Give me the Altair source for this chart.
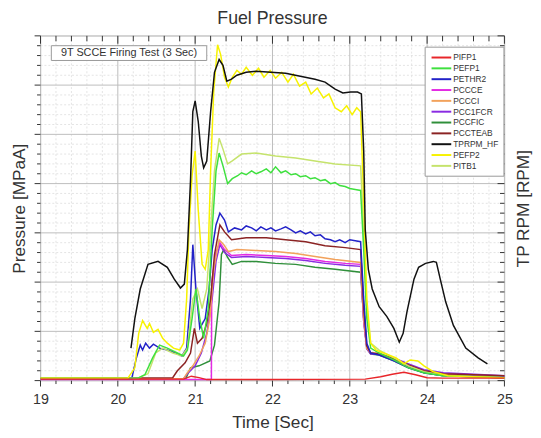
import altair as alt
import pandas as pd

chart_title = "Fuel Pressure"
note_text = "9T SCCE Firing Test (3 Sec)"
series_names = ["PIFP1", "PEFP1", "PETHR2", "PCCCE", "PCCCI", "PCC1FCR",
                "PCCFIC", "PCCTEAB", "TPRPM_HF", "PEFP2", "PITB1"]
series_colors = ["#e8262a", "#3ee03e", "#2222c8", "#e32be3", "#f2a25c", "#8a2be2",
                 "#2f8f3a", "#8b2323", "#111111", "#f7f200", "#c5e36c"]
x_labels = [19, 20, 21, 22, 23, 24, 25]
y_major = [0, 10, 20, 30, 40, 50, 60, 70]

# [time s, value] pairs
PIFP1 = [[19.0, 0.3], [20.2, 0.3], [20.85, 0.3], [20.95, 0.9], [21.05, 0.6], [21.15, 0.2],
         [22.0, 0.2], [23.2, 0.3], [23.4, 0.8], [23.55, 1.3], [23.7, 1.7], [23.85, 1.2],
         [24.0, 0.6], [24.2, 0.5], [25.0, 0.5]]
PEFP1 = [[19.0, 0.5], [20.26, 0.5], [20.35, 1.2], [20.45, 4.6], [20.54, 7.2], [20.64, 6.6],
         [20.77, 5.6], [20.85, 5.0], [20.90, 6.2], [20.96, 12.6], [21.01, 18.6], [21.06, 12.6],
         [21.11, 8.6], [21.17, 14.6], [21.22, 30.6], [21.27, 42.6], [21.31, 46.2], [21.36, 43.6],
         [21.42, 40.0], [21.48, 41.0], [21.55, 41.6], [21.60, 42.2], [21.66, 41.8], [21.73, 42.6],
         [21.79, 42.0], [21.85, 42.4], [21.92, 43.0], [21.98, 42.2], [22.04, 43.4], [22.11, 42.2],
         [22.17, 42.6], [22.24, 41.8], [22.30, 42.0], [22.36, 41.4], [22.43, 41.6], [22.49, 41.0],
         [22.55, 41.2], [22.62, 40.6], [22.68, 40.8], [22.75, 40.0], [22.81, 40.2], [22.87, 39.6],
         [22.94, 39.4], [23.00, 39.0], [23.07, 38.8], [23.14, 38.6], [23.18, 26.6], [23.22, 12.6],
         [23.27, 6.6], [23.38, 5.6], [23.57, 4.2], [23.76, 2.6], [23.96, 1.6], [24.21, 1.0],
         [25.0, 0.6]]
PETHR2 = [[19.0, 0.4], [20.18, 0.4], [20.24, 4.6], [20.29, 7.2], [20.32, 6.2], [20.36, 7.6],
          [20.41, 6.6], [20.46, 7.4], [20.54, 6.6], [20.64, 6.2], [20.75, 5.6], [20.83, 5.0],
          [20.89, 6.6], [20.94, 16.6], [20.97, 27.6], [21.01, 18.6], [21.06, 10.6], [21.13, 12.6],
          [21.18, 18.6], [21.22, 26.6], [21.27, 31.6], [21.32, 34.0], [21.38, 32.6], [21.43, 30.2],
          [21.51, 31.0], [21.60, 30.6], [21.66, 31.4], [21.73, 31.0], [21.79, 30.4], [21.85, 31.2],
          [21.92, 30.6], [21.98, 31.0], [22.04, 30.4], [22.11, 30.8], [22.17, 31.2], [22.24, 30.6],
          [22.30, 30.0], [22.36, 30.4], [22.43, 29.8], [22.49, 30.2], [22.55, 29.4], [22.62, 29.6],
          [22.68, 28.8], [22.75, 28.6], [22.81, 28.2], [22.87, 28.6], [22.94, 28.0], [23.00, 28.6],
          [23.07, 28.4], [23.14, 28.2], [23.18, 16.6], [23.22, 7.6], [23.27, 5.6], [23.38, 5.2],
          [23.57, 4.0], [23.76, 2.6], [23.96, 1.6], [24.21, 1.0], [25.0, 0.7]]
PCCCE = [[19.0, 0.2], [21.21, 0.2], [21.215, 20.0], [21.27, 26.0], [21.32, 28.0], [21.38, 26.6],
         [21.47, 25.4], [21.66, 25.6], [21.92, 25.4], [22.17, 25.2], [22.43, 24.8], [22.68, 24.2],
         [22.94, 23.8], [23.14, 23.6], [23.18, 12.0], [23.22, 6.8], [23.27, 5.6], [23.38, 5.4],
         [23.57, 4.4], [23.76, 2.8], [23.96, 1.8], [24.21, 1.2], [25.0, 0.8]]
PCCCI = [[19.0, 0.4], [20.85, 0.4], [20.90, 1.6], [20.97, 3.0], [21.05, 5.0], [21.13, 7.6],
         [21.19, 12.6], [21.24, 22.6], [21.31, 28.6], [21.37, 27.6], [21.43, 26.2], [21.54, 26.6],
         [21.79, 26.4], [22.04, 26.2], [22.30, 25.8], [22.55, 25.2], [22.81, 24.6], [23.14, 24.0],
         [23.18, 12.6], [23.22, 6.6], [23.27, 5.6], [23.38, 5.6], [23.57, 4.4], [23.76, 3.0],
         [23.96, 1.8], [24.21, 1.2], [25.0, 0.8]]
PCC1FCR = [[19.0, 0.4], [20.85, 0.4], [20.90, 1.4], [21.00, 3.0], [21.08, 5.6], [21.15, 9.6],
           [21.22, 16.6], [21.27, 24.2], [21.32, 27.6], [21.38, 26.0], [21.47, 25.0], [21.66, 25.2],
           [21.92, 25.0], [22.17, 24.8], [22.43, 24.4], [22.68, 23.8], [22.94, 23.4], [23.14, 23.2],
           [23.18, 12.0], [23.22, 6.4], [23.27, 5.4], [23.38, 5.4], [23.57, 4.6], [23.76, 3.4],
           [23.96, 2.2], [24.21, 1.6], [25.0, 1.0]]
PCCFIC = [[19.0, 0.4], [20.88, 0.4], [20.94, 2.6], [21.05, 3.0], [21.19, 4.0], [21.25, 7.2],
          [21.31, 16.0], [21.34, 25.6], [21.37, 26.6], [21.42, 25.0], [21.48, 23.6], [21.60, 24.2],
          [21.79, 24.2], [22.04, 23.8], [22.30, 23.6], [22.55, 23.0], [22.81, 22.6], [23.14, 22.0],
          [23.18, 12.6], [23.22, 6.6], [23.27, 5.4], [23.38, 5.2], [23.57, 4.0], [23.76, 2.6],
          [23.96, 1.6], [24.21, 1.0], [25.0, 0.6]]
PCCTEAB = [[19.0, 0.5], [20.71, 0.6], [20.77, 2.0], [20.87, 3.6], [20.94, 5.6], [20.99, 10.6],
           [21.03, 7.6], [21.09, 8.6], [21.15, 11.6], [21.20, 16.6], [21.25, 25.6], [21.32, 31.6],
           [21.38, 30.2], [21.47, 28.6], [21.66, 29.0], [21.92, 29.0], [22.17, 28.6], [22.43, 28.2],
           [22.68, 27.4], [22.94, 27.0], [23.14, 26.6], [23.18, 14.6], [23.22, 7.0], [23.27, 5.6],
           [23.38, 5.4], [23.57, 4.4], [23.76, 3.2], [23.96, 2.0], [24.21, 1.4], [25.0, 1.0]]
TPRPM_HF = [[20.17, 6.6], [20.22, 12.6], [20.29, 18.6], [20.39, 23.6], [20.52, 24.2], [20.64, 23.0],
            [20.73, 20.6], [20.81, 18.8], [20.86, 19.6], [20.90, 26.6], [20.94, 40.6], [20.97, 54.6],
            [21.00, 56.8], [21.04, 52.6], [21.08, 45.6], [21.11, 43.2], [21.15, 44.6], [21.20, 54.6],
            [21.25, 62.6], [21.31, 65.2], [21.36, 64.0], [21.41, 60.8], [21.47, 61.2], [21.54, 62.0],
            [21.66, 62.6], [21.79, 62.8], [21.98, 62.6], [22.17, 62.4], [22.36, 61.8], [22.55, 61.2],
            [22.68, 60.6], [22.81, 59.2], [22.91, 58.4], [23.01, 58.6], [23.10, 58.6], [23.15, 58.2],
            [23.18, 46.6], [23.20, 30.6], [23.24, 22.6], [23.29, 18.6], [23.38, 15.0], [23.48, 13.0],
            [23.57, 10.6], [23.64, 7.8], [23.69, 9.6], [23.74, 14.0], [23.83, 20.6], [23.89, 23.0],
            [23.98, 23.8], [24.08, 24.2], [24.12, 24.0], [24.17, 20.6], [24.24, 16.0], [24.34, 11.2],
            [24.50, 6.6], [24.66, 4.6], [24.78, 3.4]]
PEFP2 = [[19.0, 0.5], [20.13, 0.5], [20.22, 2.6], [20.27, 9.6], [20.32, 12.2], [20.38, 10.6],
         [20.41, 11.6], [20.46, 9.8], [20.52, 10.4], [20.58, 8.6], [20.64, 7.6], [20.72, 6.6],
         [20.80, 6.2], [20.85, 7.6], [20.89, 16.6], [20.92, 30.6], [20.96, 41.6], [21.00, 46.6],
         [21.04, 34.6], [21.09, 23.6], [21.13, 22.6], [21.17, 26.6], [21.20, 42.6], [21.24, 58.6],
         [21.29, 68.2], [21.33, 66.2], [21.38, 61.6], [21.43, 59.6], [21.48, 61.6], [21.54, 63.0],
         [21.60, 62.2], [21.66, 63.6], [21.74, 62.0], [21.82, 63.4], [21.89, 61.6], [21.97, 63.0],
         [22.04, 61.4], [22.12, 62.6], [22.20, 60.6], [22.27, 62.2], [22.35, 59.8], [22.43, 60.6],
         [22.50, 58.2], [22.58, 59.4], [22.66, 57.4], [22.73, 58.2], [22.81, 55.4], [22.89, 54.6],
         [22.96, 55.8], [23.03, 54.0], [23.09, 55.4], [23.14, 54.6], [23.18, 36.6], [23.22, 16.6],
         [23.27, 7.6], [23.34, 6.2], [23.47, 5.4], [23.60, 4.6], [23.70, 3.4], [23.78, 4.2],
         [23.88, 4.0], [23.96, 3.0], [24.08, 1.8], [24.27, 1.0], [24.59, 0.8], [25.0, 0.6]]
PITB1 = [[19.0, 0.5], [20.26, 0.5], [20.39, 1.4], [20.49, 5.6], [20.58, 6.6], [20.71, 5.6],
         [20.83, 5.0], [20.90, 6.6], [20.97, 16.6], [21.03, 18.6], [21.09, 14.6], [21.15, 18.6],
         [21.20, 30.6], [21.25, 42.6], [21.31, 49.2], [21.36, 47.0], [21.42, 44.0], [21.48, 44.6],
         [21.60, 46.0], [21.79, 46.2], [22.04, 45.6], [22.30, 45.2], [22.55, 44.6], [22.81, 44.0],
         [23.14, 43.6], [23.18, 30.6], [23.22, 14.6], [23.27, 7.6], [23.38, 6.2], [23.57, 4.6],
         [23.76, 3.0], [23.96, 1.8], [24.21, 1.0], [25.0, 0.6]]

# annotation box [t_left, t_right, v_bottom, v_top]
note_box = [19.14, 21.15, 65.0, 68.0]

FONT = "Liberation Sans"
W, H = 471, 350

x_minor = [round(19 + 0.2 * i, 1) for i in range(31) if i % 5]
y_minor = [2 * i for i in range(36) if i % 5]

xs = alt.Scale(domain=[19, 25], nice=False, zero=False)
ys = alt.Scale(domain=[0, 70], nice=False, zero=False)
cscale = alt.Scale(domain=series_names, range=series_colors)
legend = alt.Legend(title=None, orient="none", legendX=390, legendY=11,
                    strokeColor="#999999", fillColor="white", padding=5,
                    symbolType="M-2,0H2", symbolSize=100, symbolStrokeWidth=2,
                    symbolOffset=6, labelOffset=6,
                    labelFontSize=8.5, labelFont=FONT, labelColor="#333333",
                    rowPadding=0)

df_xmaj = pd.DataFrame({"t": x_labels})
df_xmin = pd.DataFrame({"t": x_minor})
df_ymaj = pd.DataFrame({"v": y_major})
df_ymin = pd.DataFrame({"v": y_minor})

x_axis = alt.Axis(values=x_labels, title="Time [Sec]", grid=False, ticks=False,
                  domain=False, labelFontSize=14.5, labelFont=FONT, labelColor="#333333",
                  labelPadding=12, labelFlush=False, titleFontSize=17.5, titleFont=FONT,
                  titleFontWeight="normal", titleColor="#333333", titlePadding=8)
y_axis = alt.Axis(values=y_major, title="Pressure [MPaA]", labels=False, ticks=False,
                  grid=False, domain=False, titleFontSize=17.5, titleFont=FONT,
                  titleFontWeight="normal", titleColor="#333333", titlePadding=12)


def X(f="t"):
    return alt.X(f"{f}:Q", scale=xs, axis=x_axis, title="Time [Sec]")


def Y(f="v"):
    return alt.Y(f"{f}:Q", scale=ys, axis=y_axis, title="Pressure [MPaA]")


layers = []
# grid
layers.append(alt.Chart(df_xmin).mark_rule(color="#dcdcdc", strokeWidth=0.8, strokeDash=[2, 2])
              .encode(x=X(), y=alt.value(0), y2=alt.value(H)))
layers.append(alt.Chart(df_ymin).mark_rule(color="#dcdcdc", strokeWidth=0.8, strokeDash=[2, 2])
              .encode(y=Y(), x=alt.value(0), x2=alt.value(W)))
layers.append(alt.Chart(df_xmaj).mark_rule(color="#bdbdbd", strokeWidth=1)
              .encode(x=X(), y=alt.value(0), y2=alt.value(H)))
layers.append(alt.Chart(df_ymaj).mark_rule(color="#bdbdbd", strokeWidth=1)
              .encode(y=Y(), x=alt.value(0), x2=alt.value(W)))
# ticks (bottom/left out, top/right in)
tk = "#333333"
for df, ln in ((df_xmaj, 6), (df_xmin, 3.5)):
    layers.append(alt.Chart(df).mark_rule(color=tk).encode(x=X(), y=alt.value(H), y2=alt.value(H + ln)))
    layers.append(alt.Chart(df).mark_rule(color=tk).encode(x=X(), y=alt.value(0), y2=alt.value(ln + 2)))
for df, ln in ((df_ymaj, 6), (df_ymin, 3.5)):
    layers.append(alt.Chart(df).mark_rule(color=tk).encode(y=Y(), x=alt.value(-ln), x2=alt.value(0)))
    layers.append(alt.Chart(df).mark_rule(color=tk).encode(y=Y(), x=alt.value(W - ln - 1), x2=alt.value(W)))

# annotation box
df_note = pd.DataFrame({"t": [note_box[0]], "t2": [note_box[1]], "v": [note_box[2]],
                        "v2": [note_box[3]], "tc": [(note_box[0] + note_box[1]) / 2],
                        "vc": [(note_box[2] + note_box[3]) / 2], "txt": [note_text]})
layers.append(alt.Chart(df_note).mark_rect(fill="white", stroke="#999999", strokeWidth=1)
              .encode(x=X(), x2="t2:Q", y=Y(), y2="v2:Q"))
layers.append(alt.Chart(df_note).mark_text(fontSize=11, font=FONT, color="#333333")
              .encode(x=X("tc"), y=Y("vc"), text="txt:N"))

series = {"PIFP1": PIFP1, "PEFP1": PEFP1, "PETHR2": PETHR2, "PCCCE": PCCCE, "PCCCI": PCCCI,
          "PCC1FCR": PCC1FCR, "PCCFIC": PCCFIC, "PCCTEAB": PCCTEAB, "TPRPM_HF": TPRPM_HF,
          "PEFP2": PEFP2, "PITB1": PITB1}


def sdf(name):
    pts = series[name]
    return pd.DataFrame({"t": [p[0] for p in pts], "v": [p[1] for p in pts], "s": name})


C = alt.Color("s:N", scale=cscale, legend=legend)
draw_order = ["PCCFIC", "PCC1FCR", "PCCCE", "PCCCI", "PCCTEAB", "PETHR2", "PITB1",
              "PEFP1", "PEFP2", "PIFP1"]
for name in draw_order:
    layers.append(alt.Chart(sdf(name)).mark_line(strokeWidth=1.5)
                  .encode(x=X(), y=Y(), color=C))

left = alt.layer(*layers)
right = alt.Chart(sdf("TPRPM_HF")).mark_line(strokeWidth=1.5).encode(
    x=X(),
    y=alt.Y("v:Q", scale=alt.Scale(domain=[0, 70], nice=False, zero=False), title="TP RPM [RPM]",
            axis=alt.Axis(orient="right", title="TP RPM [RPM]", labels=False, ticks=False,
                          grid=False, domain=False, titleFontSize=17.5, titleFont=FONT,
                          titleFontWeight="normal", titleColor="#333333",
                          titleAngle=270, titleBaseline="top", titlePadding=10)),
    color=C)

chart = alt.layer(left, right).resolve_scale(y="independent").properties(
    width=W, height=H,
    title=alt.Title(chart_title, fontSize=18, font=FONT, fontWeight="normal",
                    color="#333333", offset=8),
    padding={"left": 33, "top": 25, "right": 29, "bottom": 55},
    autosize=alt.AutoSizeParams(type="none"),
).configure_view(stroke="#333333", strokeWidth=1).configure(background="white")

chart.save("out.html", embed_options={"renderer": "svg", "actions": False})
